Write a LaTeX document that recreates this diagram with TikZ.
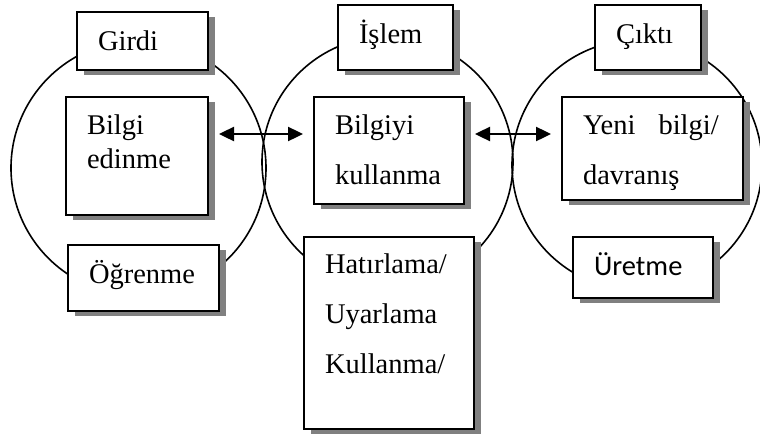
\documentclass[tikz,border=0pt]{standalone}
\usepackage{fontspec}
\setmainfont{Liberation Serif}
\newfontfamily\calibrifont{Carlito}
\usepackage{tikz}
\usetikzlibrary{arrows.meta,shadows}
\definecolor{shadowgray}{HTML}{808080}
\hyphenpenalty=10000
\tikzset{
    ring/.style={
        draw, circle, line width=1.6pt, inner sep=0pt
    },
    textbox/.style={
        draw, fill=white, line width=2pt,
        anchor=north west, align=left,
        inner xsep=21pt, inner ysep=0pt,
        font=\fontsize{28.5}{34}\selectfont,
        drop shadow={shadow xshift=7pt, shadow yshift=-5pt, fill=shadowgray, opacity=1}
    },
    widelines/.style={font=\fontsize{28.5}{50}\selectfont},
    biarrow/.style={
        {Triangle[length=15pt,width=14pt]}-{Triangle[length=15pt,width=14pt]},
        line width=2.4pt, shorten <=10pt, shorten >=10pt
    },
}
\begin{document}
\begin{tikzpicture}[x=1pt, y=-1pt]
    \useasboundingbox (0,0) rectangle (760,434);
    % the three stages
    \node[ring, minimum size=255pt] (inring) at (138.5,168) {};
    \node[ring, minimum size=251pt] (procring) at (387.5,162) {};
    \node[ring, minimum size=250pt] (outring) at (637,165) {};
    % input
    \node[textbox, text width=89pt, text height=38pt, text depth=20pt] (girdi) at (76,11) {Girdi};
    \node[textbox, text width=100pt, text height=37pt, text depth=81pt] (edinme) at (65,96) {Bilgi\\edinme};
    \node[textbox, text width=109pt, text height=38pt, text depth=28pt] (ogrenme) at (67,244) {Öğrenme};
    % process
    \node[textbox, text width=73pt, text height=38pt, text depth=27pt] (islem) at (337,4) {İşlem};
    \node[textbox, widelines, text width=108pt, text height=37pt, text depth=70pt] (kullanma) at (313,96) {Bilgiyi\\kullanma};
    \node[textbox, widelines, text width=128pt, text height=36pt, text depth=156pt] (hatirlama) at (303,236) {Hatırlama/\\Uyarlama\\Kullanma/};
    % output
    \node[textbox, text width=64pt, text height=38pt, text depth=27pt] (cikti) at (594,4) {Çıktı};
    \node[textbox, widelines, text width=139pt, text height=37pt, text depth=66pt] (yeni) at (561,96) {\mbox{Yeni\hspace{23pt}bilgi/}\\davranış};
    \node[textbox, font=\calibrifont\fontsize{28.5}{34}\selectfont, text width=98pt, text height=38pt, text depth=23pt] (uretme) at (572,236) {Üretme};
    % links
    \draw[biarrow] (edinme.base east) -- (kullanma.base west);
    \draw[biarrow] (kullanma.base east) -- (yeni.base west);
\end{tikzpicture}
\end{document}
